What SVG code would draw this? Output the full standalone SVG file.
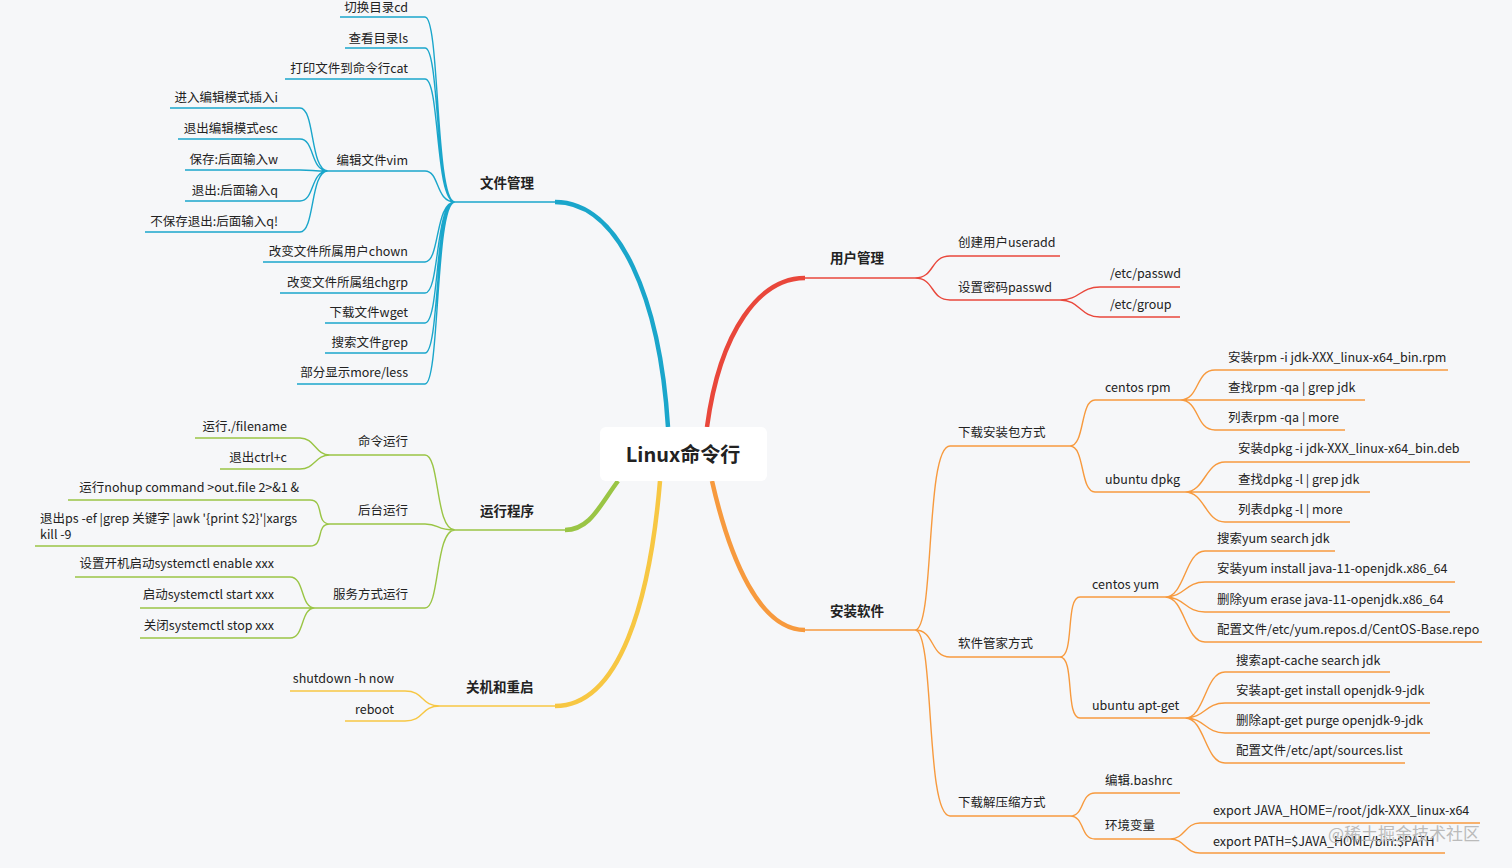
<svg xmlns="http://www.w3.org/2000/svg" width="1512" height="868" viewBox="0 0 1512 868">
<style>
text{font-family:"Noto Sans CJK SC","Noto Sans",sans-serif;font-size:12.5px;fill:#222}
.m{font-size:13.5px;font-weight:bold}
.e{text-anchor:end}
.c path,.u{fill:none;stroke-width:1.4}
.b{stroke:#1aa6cb}.g{stroke:#9ac545}.y{stroke:#f7c743}.r{stroke:#e9473b}.o{stroke:#f79a3e}
.t{stroke-width:4.5 !important}
</style>
<rect width="1512" height="868" fill="#f6f7f9"/>
<g class="c">
<path class="b t" d="M668 427 C660 300 620 202 555 202"/>
<path class="r t" d="M707 427 C720 330 760 278 805 278"/>
<path class="g t" d="M618 481 C600 505 590 530 565 530"/>
<path class="y t" d="M660 481 C650 600 620 706 555 706"/>
<path class="o t" d="M712 481 C730 560 760 630 805 630"/>
<path class="b" d="M455 202 C435 202 440 17 425 17 M455 202 C435 202 440 48 425 48 M455 202 C435 202 440 79 425 79 M455 202 C435 202 440 171 425 171 M455 202 C435 202 440 262 425 262 M455 202 C435 202 440 293 425 293 M455 202 C435 202 440 323 425 323 M455 202 C435 202 440 353 425 353 M455 202 C435 202 440 384 425 384"/>
<path class="b" d="M328 171 C310 171 315 108 300 108 M328 171 C310 171 315 139 300 139 M328 171 C310 171 315 170 300 170 M328 171 C310 171 315 201 300 201 M328 171 C310 171 315 232 300 232"/>
<path class="g" d="M455 530 C435 530 440 455 425 455 M455 530 C435 530 440 524 425 524 M455 530 C435 530 440 608 425 608"/>
<path class="g" d="M330 455 C315 455 315 438 300 438 M330 455 C315 455 315 469 300 469 M330 524 C315 524 325 500 310 500 M330 524 C315 524 325 546 310 546 M315 608 C300 608 305 577 290 577 M315 608 C300 608 305 608 290 608 M315 608 C300 608 305 638 290 638"/>
<path class="y" d="M440 706 C420 706 425 691 405 691 M440 706 C420 706 425 721 405 721"/>
<path class="r" d="M915 278 C935 278 930 256 950 256 M915 278 C935 278 930 300 950 300 M1060 300 C1080 300 1080 287 1100 287 M1060 300 C1080 300 1080 317 1100 317"/>
<path class="o" d="M915 630 C935 630 925 446 950 446 M915 630 C935 630 930 657 950 657 M915 630 C935 630 925 816 950 816"/>
<path class="o" d="M1070 446 C1085 446 1080 400 1095 400 M1070 446 C1085 446 1080 492 1095 492 M1180 400 C1200 400 1195 370 1215 370 M1180 400 C1200 400 1195 400 1215 400 M1180 400 C1200 400 1195 430 1215 430 M1185 492 C1205 492 1205 462 1225 462 M1185 492 C1205 492 1205 492 1225 492 M1185 492 C1205 492 1205 522 1225 522"/>
<path class="o" d="M1060 657 C1075 657 1065 597 1080 597 M1060 657 C1075 657 1065 718 1080 718 M1165 597 C1185 597 1185 551 1205 551 M1165 597 C1185 597 1185 582 1205 582 M1165 597 C1185 597 1185 612 1205 612 M1165 597 C1185 597 1185 642 1205 642 M1185 718 C1205 718 1205 672 1225 672 M1185 718 C1205 718 1205 703 1225 703 M1185 718 C1205 718 1205 733 1225 733 M1185 718 C1205 718 1205 763 1225 763"/>
<path class="o" d="M1070 816 C1085 816 1080 793 1095 793 M1070 816 C1085 816 1080 839 1095 839 M1170 839 C1185 839 1185 823 1200 823 M1170 839 C1185 839 1185 853 1200 853"/>
</g>
<g id="root"><rect x="600" y="427" width="167" height="54" rx="6" fill="#fff"/><text x="683" y="462" text-anchor="middle" style="font-size:20px;font-weight:bold">Linux命令行</text></g>
<g id="n-file"><text class="m" x="480" y="188">文件管理</text><line class="u b" x1="455" y1="202" x2="555" y2="202"/></g>
<g id="n-run"><text class="m" x="480" y="516">运行程序</text><line class="u g" x1="455" y1="530" x2="565" y2="530"/></g>
<g id="n-shut"><text class="m" x="466" y="692">关机和重启</text><line class="u y" x1="440" y1="706" x2="555" y2="706"/></g>
<g id="n-user"><text class="m" x="830" y="263">用户管理</text><line class="u r" x1="805" y1="278" x2="915" y2="278"/></g>
<g id="n-inst"><text class="m" x="830" y="616">安装软件</text><line class="u o" x1="805" y1="630" x2="915" y2="630"/></g>
<g id="file-leaves">
<text class="e" x="408" y="12">切换目录cd</text><line class="u b" x1="340" y1="17" x2="425" y2="17"/>
<text class="e" x="408" y="43">查看目录ls</text><line class="u b" x1="345" y1="48" x2="425" y2="48"/>
<text class="e" x="408" y="73">打印文件到命令行cat</text><line class="u b" x1="285" y1="79" x2="425" y2="79"/>
<text class="e" x="408" y="165">编辑文件vim</text><line class="u b" x1="328" y1="171" x2="425" y2="171"/>
<text class="e" x="408" y="256">改变文件所属用户chown</text><line class="u b" x1="263" y1="262" x2="425" y2="262"/>
<text class="e" x="408" y="287">改变文件所属组chgrp</text><line class="u b" x1="280" y1="293" x2="425" y2="293"/>
<text class="e" x="408" y="317">下载文件wget</text><line class="u b" x1="325" y1="323" x2="425" y2="323"/>
<text class="e" x="408" y="347">搜索文件grep</text><line class="u b" x1="325" y1="353" x2="425" y2="353"/>
<text class="e" x="408" y="377">部分显示more/less</text><line class="u b" x1="297" y1="384" x2="425" y2="384"/>
<text class="e" x="278" y="102">进入编辑模式插入i</text><line class="u b" x1="170" y1="108" x2="300" y2="108"/>
<text class="e" x="278" y="133">退出编辑模式esc</text><line class="u b" x1="178" y1="139" x2="300" y2="139"/>
<text class="e" x="278" y="164">保存:后面输入w</text><line class="u b" x1="185" y1="170" x2="300" y2="170"/>
<text class="e" x="278" y="195">退出:后面输入q</text><line class="u b" x1="185" y1="201" x2="300" y2="201"/>
<text class="e" x="278" y="226">不保存退出:后面输入q!</text><line class="u b" x1="145" y1="232" x2="300" y2="232"/>
</g>
<g id="run-leaves">
<text class="e" x="408" y="446">命令运行</text><line class="u g" x1="330" y1="455" x2="425" y2="455"/>
<text class="e" x="408" y="515">后台运行</text><line class="u g" x1="330" y1="524" x2="425" y2="524"/>
<text class="e" x="408" y="599">服务方式运行</text><line class="u g" x1="315" y1="608" x2="425" y2="608"/>
<text class="e" x="287" y="431">运行./filename</text><line class="u g" x1="195" y1="438" x2="300" y2="438"/>
<text class="e" x="287" y="462">退出ctrl+c</text><line class="u g" x1="220" y1="469" x2="300" y2="469"/>
<text class="e" x="299" y="492">运行nohup command  &gt;out.file 2&gt;&amp;1 &amp;</text><line class="u g" x1="68" y1="500" x2="310" y2="500"/>
<text x="40" y="523">退出ps -ef |grep 关键字  |awk '{print $2}'|xargs</text><text x="40" y="539">kill -9</text><line class="u g" x1="35" y1="546" x2="310" y2="546"/>
<text class="e" x="274" y="568">设置开机启动systemctl enable xxx</text><line class="u g" x1="75" y1="577" x2="290" y2="577"/>
<text class="e" x="274" y="599">启动systemctl start xxx</text><line class="u g" x1="140" y1="608" x2="290" y2="608"/>
<text class="e" x="274" y="630">关闭systemctl stop xxx</text><line class="u g" x1="140" y1="638" x2="290" y2="638"/>
</g>
<g id="shut-leaves">
<text class="e" x="394" y="683">shutdown -h now</text><line class="u y" x1="290" y1="691" x2="405" y2="691"/>
<text class="e" x="394" y="714">reboot</text><line class="u y" x1="345" y1="721" x2="405" y2="721"/>
</g>
<g id="user-leaves">
<text x="958" y="247">创建用户useradd</text><line class="u r" x1="950" y1="256" x2="1060" y2="256"/>
<text x="958" y="292">设置密码passwd</text><line class="u r" x1="950" y1="300" x2="1060" y2="300"/>
<text x="1110" y="278">/etc/passwd</text><line class="u r" x1="1100" y1="287" x2="1180" y2="287"/>
<text x="1110" y="309">/etc/group</text><line class="u r" x1="1100" y1="317" x2="1180" y2="317"/>
</g>
<g id="inst-leaves">
<text x="958" y="437">下载安装包方式</text><line class="u o" x1="950" y1="446" x2="1070" y2="446"/>
<text x="958" y="648">软件管家方式</text><line class="u o" x1="950" y1="657" x2="1060" y2="657"/>
<text x="958" y="807">下载解压缩方式</text><line class="u o" x1="950" y1="816" x2="1070" y2="816"/>
<text x="1105" y="392">centos rpm</text><line class="u o" x1="1095" y1="400" x2="1180" y2="400"/>
<text x="1105" y="484">ubuntu dpkg</text><line class="u o" x1="1095" y1="492" x2="1185" y2="492"/>
<text x="1228" y="362">安装rpm -i jdk-XXX_linux-x64_bin.rpm</text><line class="u o" x1="1215" y1="370" x2="1448" y2="370"/>
<text x="1228" y="392">查找rpm -qa | grep jdk</text><line class="u o" x1="1215" y1="400" x2="1365" y2="400"/>
<text x="1228" y="422">列表rpm -qa | more</text><line class="u o" x1="1215" y1="430" x2="1345" y2="430"/>
<text x="1238" y="453">安装dpkg -i jdk-XXX_linux-x64_bin.deb</text><line class="u o" x1="1225" y1="462" x2="1470" y2="462"/>
<text x="1238" y="484">查找dpkg -l | grep jdk</text><line class="u o" x1="1225" y1="492" x2="1370" y2="492"/>
<text x="1238" y="514">列表dpkg -l | more</text><line class="u o" x1="1225" y1="522" x2="1350" y2="522"/>
<text x="1092" y="589">centos yum</text><line class="u o" x1="1080" y1="597" x2="1165" y2="597"/>
<text x="1092" y="710">ubuntu apt-get</text><line class="u o" x1="1080" y1="718" x2="1185" y2="718"/>
<text x="1217" y="543">搜索yum search jdk</text><line class="u o" x1="1205" y1="551" x2="1335" y2="551"/>
<text x="1217" y="573">安装yum install java-11-openjdk.x86_64</text><line class="u o" x1="1205" y1="582" x2="1455" y2="582"/>
<text x="1217" y="604">删除yum erase java-11-openjdk.x86_64</text><line class="u o" x1="1205" y1="612" x2="1450" y2="612"/>
<text x="1217" y="634">配置文件/etc/yum.repos.d/CentOS-Base.repo</text><line class="u o" x1="1205" y1="642" x2="1482" y2="642"/>
<text x="1236" y="665">搜索apt-cache search jdk</text><line class="u o" x1="1225" y1="672" x2="1390" y2="672"/>
<text x="1236" y="695">安装apt-get install openjdk-9-jdk</text><line class="u o" x1="1225" y1="703" x2="1430" y2="703"/>
<text x="1236" y="725">删除apt-get purge openjdk-9-jdk</text><line class="u o" x1="1225" y1="733" x2="1430" y2="733"/>
<text x="1236" y="755">配置文件/etc/apt/sources.list</text><line class="u o" x1="1225" y1="763" x2="1405" y2="763"/>
<text x="1105" y="785">编辑.bashrc</text><line class="u o" x1="1095" y1="793" x2="1180" y2="793"/>
<text x="1105" y="830">环境变量</text><line class="u o" x1="1095" y1="839" x2="1170" y2="839"/>
<text x="1213" y="815">export JAVA_HOME=/root/jdk-XXX_linux-x64</text><line class="u o" x1="1200" y1="823" x2="1480" y2="823"/>
<text x="1213" y="846">export PATH=$JAVA_HOME/bin:$PATH</text><line class="u o" x1="1200" y1="853" x2="1445" y2="853"/>
</g>
<text x="1328" y="840" style="font-size:17px;fill:#bbb">@稀土掘金技术社区</text>
</svg>
